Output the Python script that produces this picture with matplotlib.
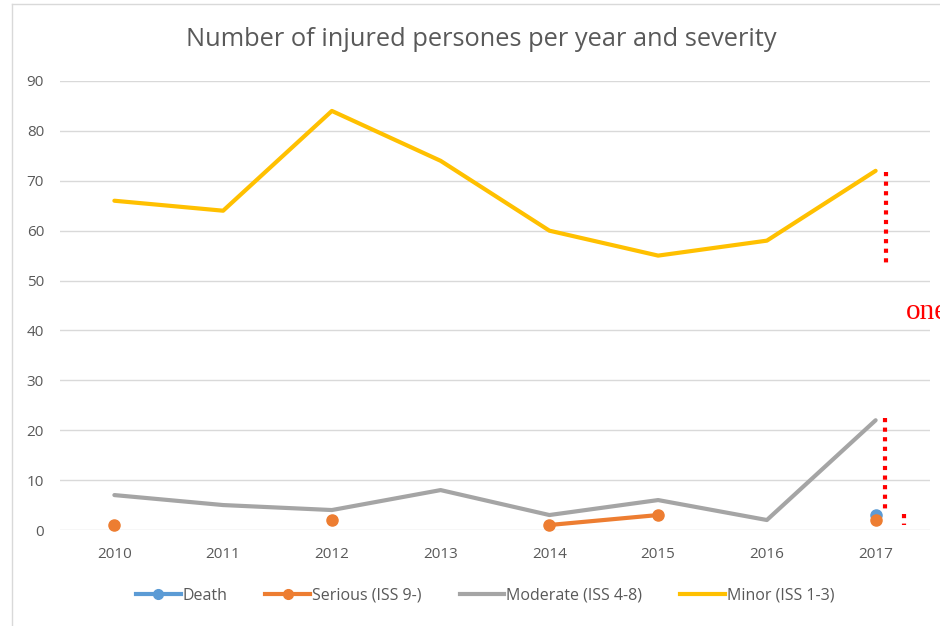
import numpy as np
import matplotlib.pyplot as plt
from matplotlib.lines import Line2D

# Data
years = ['2010', '2011', '2012', '2013', '2014', '2015', '2016', '2017']
death = [np.nan, np.nan, np.nan, np.nan, np.nan, np.nan, np.nan, 3]
serious = [1, np.nan, 2, np.nan, 1, 3, np.nan, 2]
moderate = [7, 5, 4, 8, 3, 6, 2, 22]
minor = [66, 64, 84, 74, 60, 55, 58, 72]

W, H = 940, 626
fig = plt.figure(figsize=(W / 100, H / 100), dpi=100)
plt.rcParams['font.family'] = ['Open Sans', 'DejaVu Sans']

# plot area in pixels: x 60..930, y 81 (90) .. 530 (0)
ax = fig.add_axes([60 / W, 1 - 530 / H, 870 / W, (530 - 81) / H])

x = np.arange(len(years))
c_death, c_ser, c_mod, c_min = '#5B9BD5', '#ED7D31', '#A5A5A5', '#FFC000'

ax.plot(x, moderate, color=c_mod, lw=3, solid_capstyle='round', zorder=3, clip_on=False)
ax.plot(x, minor, color=c_min, lw=3, solid_capstyle='round', zorder=3, clip_on=False)
ax.plot(x, death, color=c_death, lw=3, marker='o', ms=8, zorder=4, clip_on=False)
ax.plot(x, serious, color=c_ser, lw=3, marker='o', ms=8, zorder=5, clip_on=False)

ax.set_xlim(-0.5, len(years) - 0.5)
ax.set_ylim(0, 90)
ax.set_yticks(range(0, 91, 10))
ax.set_xticks(x)
ax.set_xticklabels(years)
ax.grid(axis='y', color='#D9D9D9', lw=1)
ax.set_axisbelow(True)
for s in ax.spines.values():
    s.set_visible(False)
ax.tick_params(length=0, colors='#595959', labelsize=11)
ax.tick_params(axis='y', pad=11.5)
ax.tick_params(axis='x', pad=12)

fig.text(481 / W, 1 - 39 / H, 'Number of injured persones per year and severity',
         ha='center', va='center', fontsize=18.3, color='#595959')

# legend
handles = [Line2D([], [], color=c_death, lw=3, marker='o', ms=7),
           Line2D([], [], color=c_ser, lw=3, marker='o', ms=7),
           Line2D([], [], color=c_mod, lw=3),
           Line2D([], [], color=c_min, lw=3)]
labels = ['Death', 'Serious (ISS 9-)', 'Moderate (ISS 4-8)', 'Minor (ISS 1-3)']
leg = fig.legend(handles, labels, loc='center', bbox_to_anchor=(485 / W, 1 - 596 / H),
                 ncol=4, frameon=False, fontsize=11.5, handlelength=2.8,
                 handletextpad=0.1, columnspacing=2.4)
for t in leg.get_texts():
    t.set_color('#595959')

# outer chart border
fig.add_artist(Line2D([12 / W, 12 / W], [0, 1 - 4 / H], color='#D9D9D9', lw=1))
fig.add_artist(Line2D([12 / W, 1], [1 - 4 / H, 1 - 4 / H], color='#D9D9D9', lw=1))

# red dotted annotations overlaid on the screenshot
dots = (0, (1, 1.3))
fig.add_artist(Line2D([886 / W, 886 / W], [1 - 172 / H, 1 - 266 / H], color='red', lw=3, ls=dots))
fig.add_artist(Line2D([885 / W, 885 / W], [1 - 418 / H, 1 - 512 / H], color='red', lw=3, ls=dots))
fig.add_artist(Line2D([904 / W, 904 / W], [1 - 514 / H, 1 - 525 / H], color='red', lw=3, ls=dots))
# text runs off the right edge, as in the original screenshot
fig.text(906 / W, 1 - 312 / H, 'one', color='red', fontsize=21,
         family='Liberation Serif', va='center', ha='left')

fig.savefig('out.png', dpi=100)
